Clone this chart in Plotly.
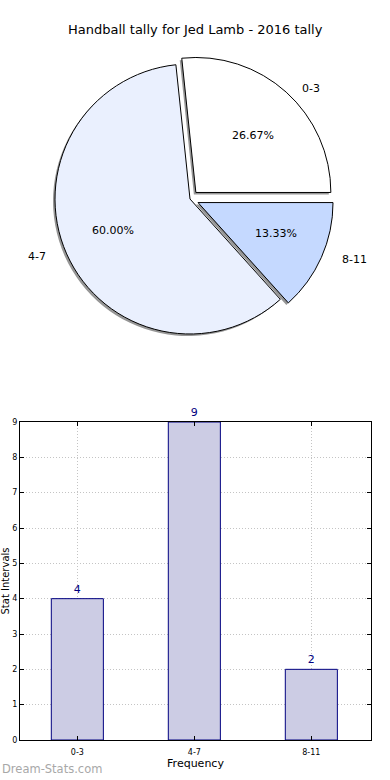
import math
import plotly.graph_objects as go

# ---- data ----
title_text = "Handball tally for Jed Lamb - 2016 tally"
categories = ["0-3", "4-7", "8-11"]
counts = [4, 9, 2]
pie_colors = ["#ffffff", "#eaf0fe", "#c5d9ff"]
pulls = [0.065, 0.0, 0.065]
bar_fill = "#ccccE4"
bar_edge = "#000080"
x_title = "Frequency"
y_title = "Stat Intervals"
watermark = "Dream-Stats.com"

W, H = 390, 780
FONT = "DejaVu Sans"

def px(x):  # pixel x -> paper
    return x / W

def py(y):  # pixel y (from top) -> paper
    return 1 - y / H

# pie geometry (pixels)
cx, cy = 190, 199
r = 135
rx_t, ry_t = 141, 128  # text placement radii
half = r * (1 + max(pulls))
total = sum(counts)
rot = 90 - 360 * counts[0] / total  # first slice starts at 3 o'clock, counterclockwise

def dom(cxp, cyp):
    return dict(x=[px(cxp - half), px(cxp + half)], y=[py(cyp + half), py(cyp - half)])

fig = go.Figure()

# shadow pie
fig.add_trace(go.Pie(
    labels=categories, values=counts, sort=False, direction="counterclockwise",
    rotation=rot, pull=pulls, domain=dom(cx - 2, cy + 2),
    marker=dict(colors=["#969696"] * len(counts), line=dict(width=0)),
    textinfo="none", hoverinfo="skip", showlegend=False,
))
# main pie
fig.add_trace(go.Pie(
    labels=categories, values=counts, sort=False, direction="counterclockwise",
    rotation=rot, pull=pulls, domain=dom(cx, cy),
    marker=dict(colors=pie_colors, line=dict(color="#000000", width=1)),
    textinfo="none", showlegend=False,
))

# pie text labels computed from the data
start = 0.0
annotations = []
for cat, v, p in zip(categories, counts, pulls):
    frac = v / total
    mid = (start + frac / 2) * 2 * math.pi
    start += frac
    c, s = math.cos(mid), math.sin(mid)
    tx = cx + (0.6 + p) * rx_t * c
    ty = cy - (0.6 + p) * ry_t * s
    annotations.append(dict(x=px(tx), y=py(ty), xref="paper", yref="paper",
                            xanchor="center", yanchor="middle",
                            text=f"{100 * frac:.2f}%", showarrow=False,
                            font=dict(family=FONT, size=11, color="#000000")))
    lx = cx + (1.1 + p) * rx_t * c
    ly = cy - (1.1 + p) * ry_t * s
    annotations.append(dict(x=px(lx), y=py(ly), xref="paper", yref="paper",
                            xanchor="left" if c > 0 else "right", yanchor="middle",
                            text=cat, showarrow=False,
                            font=dict(family=FONT, size=11, color="#000000")))

# bar chart
fig.add_trace(go.Bar(
    x=list(range(len(categories))), y=counts, width=0.445,
    marker=dict(color=bar_fill, line=dict(color=bar_edge, width=1)),
    text=[str(c) for c in counts], textposition="outside", cliponaxis=False,
    textfont=dict(family=FONT, size=11, color=bar_edge),
    xaxis="x", yaxis="y", showlegend=False,
))

annotations.append(dict(x=px(195), y=py(30), xref="paper", yref="paper",
                        xanchor="center", yanchor="middle",
                        text=title_text, showarrow=False,
                        font=dict(family=FONT, size=13, color="#000000")))
annotations.append(dict(x=px(0), y=py(769), xref="paper", yref="paper",
                        xanchor="left", yanchor="middle", text=watermark, showarrow=False,
                        font=dict(family=FONT, size=11.5, color="#a8a8a8")))

axis_common = dict(showline=True, mirror="allticks", linecolor="#000000", linewidth=1,
                   ticks="inside", ticklen=4, tickcolor="#000000", automargin=False,
                   showgrid=True, gridcolor="#c4c4c4", griddash="1px,2px", gridwidth=1,
                   zeroline=False, tickfont=dict(family=FONT, size=8, color="#000000"))

fig.update_layout(
    width=W, height=H, margin=dict(l=0, r=0, t=0, b=0, autoexpand=False),
    paper_bgcolor="#ffffff", plot_bgcolor="#ffffff",
    font=dict(family=FONT),
    annotations=annotations,
    bargap=0,
    hovermode=False,
    xaxis=dict(domain=[px(20), px(371)], range=[-0.49, 2.51],
               tickvals=list(range(len(categories))), ticktext=categories,
               ticklabelstandoff=4,
               title=dict(text=x_title, font=dict(family=FONT, size=11, color="#000000"), standoff=0),
               anchor="y", **axis_common),
    yaxis=dict(domain=[py(740), py(422)], range=[0, 9], dtick=1,
               title=dict(text=y_title, font=dict(family=FONT, size=10, color="#000000"), standoff=4),
               anchor="x", **axis_common),
)

# remove the default page margin so the figure fills the window exactly
fig.write_html("out.html", config={"displayModeBar": False, "staticPlot": True},
               post_script="document.body.style.margin='0';")
